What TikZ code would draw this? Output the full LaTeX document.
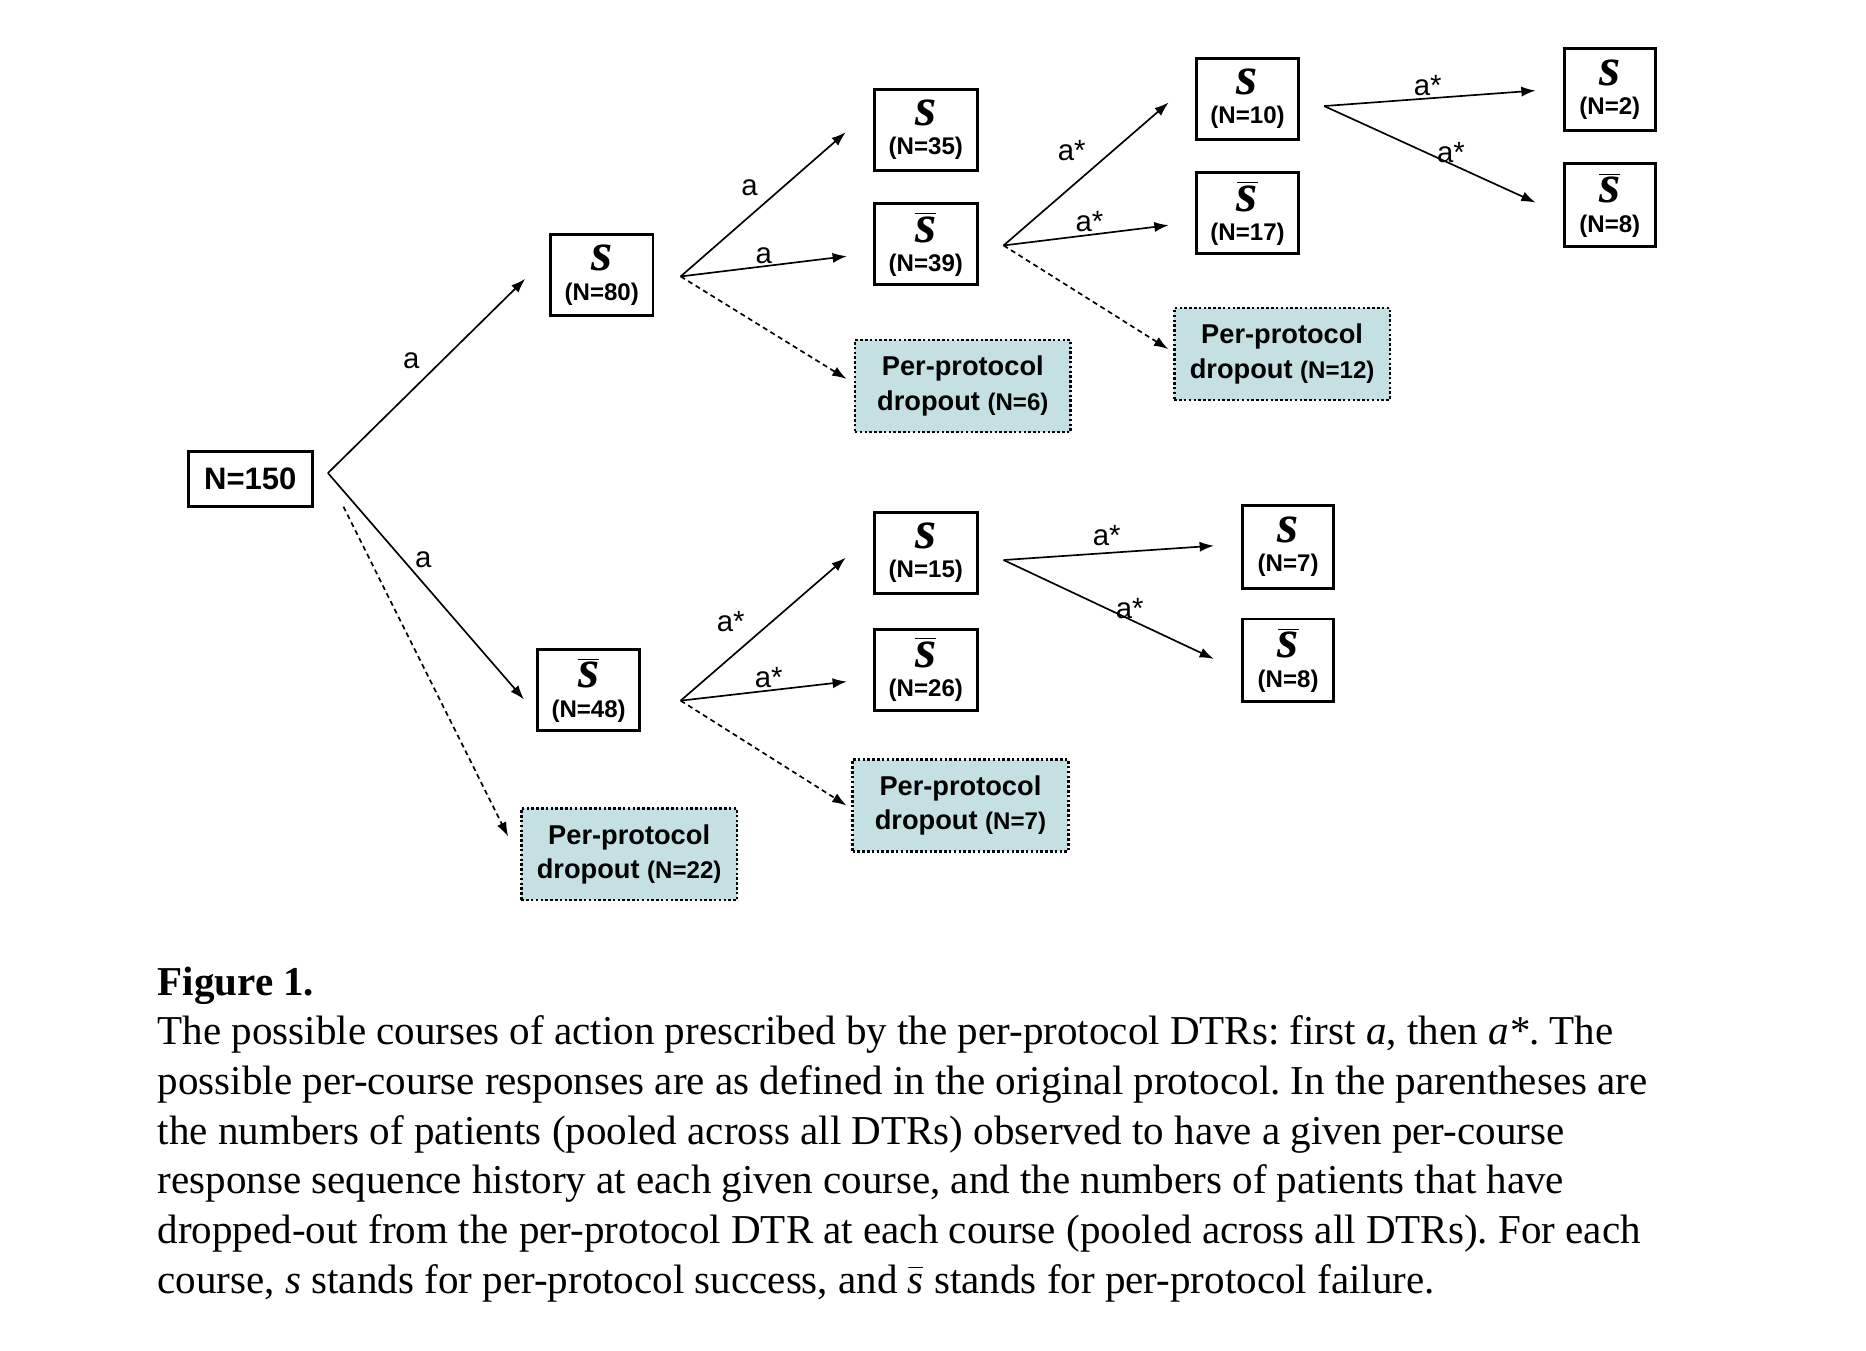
\documentclass[tikz,border=0pt]{standalone}
\usepackage{fontspec}
\setmainfont{Liberation Serif}
\newfontfamily\arialfont{Liberation Sans}
\usetikzlibrary{arrows.meta}

\definecolor{dropfill}{RGB}{197,224,226}
\newcommand{\ess}{{\rmfamily\fontsize{26}{26}\selectfont\bfseries\itshape s}}
\newcommand{\essbar}{$\overline{\mbox{\ess}}$}

\begin{document}
\begin{tikzpicture}[x=0.2mm, y=-0.2mm,
    resp/.style ={draw, line width=1.4pt, align=center, inner sep=1pt,
      minimum width=17.2mm, minimum height=13.6mm,
      font=\arialfont\bfseries\fontsize{11.5}{16}\selectfont},
    narrow/.style ={minimum width=15.2mm, minimum height=13.8mm},
    root/.style ={draw, line width=1.4pt, minimum width=20.8mm, minimum height=9.2mm,
      font=\arialfont\bfseries\fontsize{14.8}{16}\selectfont},
    dropbox/.style ={draw, line width=1.2pt, dash pattern=on 1.2pt off 1.1pt, fill=dropfill,
      align=center, minimum width=36.2mm, minimum height=15.4mm,
      font=\arialfont\bfseries\fontsize{13}{16.4}\selectfont},
    arr/.style ={-{Latex[length=2.4mm,width=1.7mm]}, line width=0.8pt},
    dropline/.style ={arr, dash pattern=on 2.4pt off 1.8pt},
    lbl/.style ={font=\arialfont\fontsize{14}{15}\selectfont, inner sep=1pt},
    caption/.style ={align=left, inner sep=0pt, font=\frenchspacing\fontsize{19.6}{23.7}\selectfont}]
   \useasboundingbox (0,0) rectangle (1566,1133);
   % first course
   \node[root] (n150) at (210,402) {N=150};
   \node[resp] (s80) at (505,231) {\ess\\[-2pt](N=80)};
   \node[resp] (f48) at (494,579) {\essbar\\[-2pt](N=48)};
   \node[dropbox] (d22) at (528,717) {Per-protocol\\dropout {\fontsize{11.5}{14}\selectfont(N=22)}};
   % second course
   \node[resp] (s35) at (777,109) {\ess\\[-2pt](N=35)};
   \node[resp] (f39) at (777,205) {\essbar\\[-2pt](N=39)};
   \node[dropbox] (d6) at (808,324) {Per-protocol\\dropout {\fontsize{11.5}{14}\selectfont(N=6)}};
   \node[resp] (s15) at (777,464) {\ess\\[-2pt](N=15)};
   \node[resp] (f26) at (777,562) {\essbar\\[-2pt](N=26)};
   \node[dropbox] (d7) at (806,676) {Per-protocol\\dropout {\fontsize{11.5}{14}\selectfont(N=7)}};
   % third course
   \node[resp] (s10) at (1047,83) {\ess\\[-2pt](N=10)};
   \node[resp] (f17) at (1047,179) {\essbar\\[-2pt](N=17)};
   \node[dropbox] (d12) at (1076,297) {Per-protocol\\dropout {\fontsize{11.5}{14}\selectfont(N=12)}};
   \node[resp, narrow] (s7) at (1081,459) {\ess\\[-2pt](N=7)};
   \node[resp, narrow] (f8b) at (1081,554) {\essbar\\[-2pt](N=8)};
   % fourth course
   \node[resp, narrow] (s2) at (1351,75) {\ess\\[-2pt](N=2)};
   \node[resp, narrow] (f8a) at (1351,172) {\essbar\\[-2pt](N=8)};
   % branch points
   \coordinate (b0) at ([shift={(12,-5)}]n150.east);
   \coordinate (b0d) at ([shift={(25,-1)}]n150.south east);
   \coordinate (b1) at ([shift={(22,1)}]s80.east);
   \coordinate (b2) at ([shift={(21,1)}]f39.east);
   \coordinate (b3) at ([shift={(20,6)}]s10.east);
   \coordinate (b4) at ([shift={(33,9)}]f48.east);
   \coordinate (b5) at ([shift={(21,6)}]s15.east);
   % connectors
   \draw[arr] (b0) -- ([shift={(-20,3)}]s80.west) node[lbl, pos=0.5, above left=2pt] {a};
   \draw[arr] (b0) -- ([shift={(-10,8)}]f48.west) node[lbl, pos=0.43, anchor=south west] {a};
   \draw[dropline] (b0d) -- ([shift={(-10,-15)}]d22.west);
   \draw[arr] (b1) -- ([shift={(-23,2)}]s35.west) node[lbl, pos=0.51, above left=2pt] {a};
   \draw[arr] (b1) -- ([shift={(-22,10)}]f39.west) node[lbl, pos=0.5, above] {a};
   \draw[dropline] (b1) -- ([shift={(-6,-6)}]d6.west);
   \draw[arr] (b2) -- ([shift={(-22,3)}]s10.west) node[lbl, pos=0.54, above left=2pt] {a*};
   \draw[arr] (b2) -- ([shift={(-22,10)}]f17.west) node[lbl, pos=0.52, above] {a*};
   \draw[dropline] (b2) -- ([shift={(-4,-4)}]d12.west);
   \draw[arr] (b3) -- ([shift={(-23,1)}]s2.west) node[lbl, pos=0.49, above] {a*};
   \draw[arr] (b3) -- ([shift={(-23,-2)}]f8a.west) node[lbl, pos=0.6, above, inner sep=0pt] {a*};
   \draw[arr] (b4) -- ([shift={(-23,4)}]s15.west) node[lbl, pos=0.43, above left=2pt] {a*};
   \draw[arr] (b4) -- ([shift={(-22,10)}]f26.west) node[lbl, pos=0.53, above] {a*};
   \draw[dropline] (b4) -- ([shift={(-4,0)}]d7.west);
   \draw[arr] (b5) -- ([shift={(-23,-1)}]s7.west) node[lbl, pos=0.49, above=2pt] {a*};
   \draw[arr] (b5) -- ([shift={(-23,-1)}]f8b.west) node[lbl, pos=0.6, above, inner sep=0pt] {a*};
   % caption
   \node[caption, anchor=north west] (cap) at (132,811) {\textbf{Figure 1.}\\
The possible courses of action prescribed by the per-protocol DTRs: first \textit{a}, then \textit{a*}. The\\
possible per-course responses are as defined in the original protocol. In the parentheses are\\
the numbers of patients (pooled across all DTRs) observed to have a given per-course\\
response sequence history at each given course, and the numbers of patients that have\\
dropped-out from the per-protocol DTR at each course (pooled across all DTRs). For each\\
course, \textit{s} stands for per-protocol success, and $\bar{\mbox{\itshape s}}$ stands for per-protocol failure.};
 \end{tikzpicture}
\end{document}
